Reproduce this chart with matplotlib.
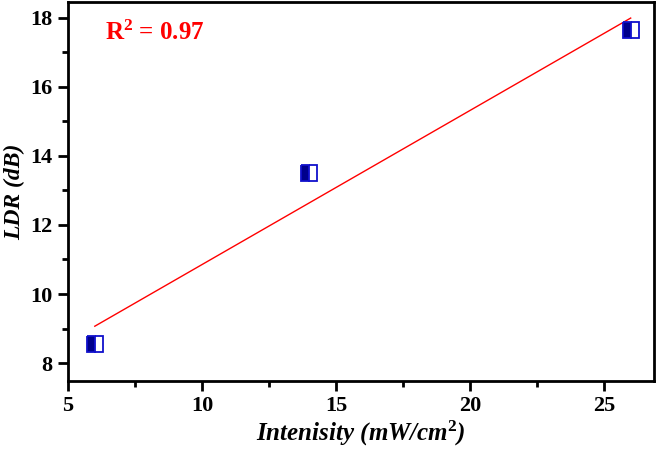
import numpy as np
import matplotlib
matplotlib.use("Agg")
import matplotlib.pyplot as plt
from matplotlib.ticker import MultipleLocator

intensity = [6, 14, 26]
ldr = [8.55, 13.5, 17.65]
r2_label = "R$^{\\mathbf{2}}$ = 0.97"

plt.rcParams['font.family'] = ['Liberation Serif', 'DejaVu Serif']
plt.rcParams['mathtext.fontset'] = 'custom'
plt.rcParams['mathtext.rm'] = 'Liberation Serif:bold'
plt.rcParams['mathtext.it'] = 'Liberation Serif:bold:italic'
plt.rcParams['mathtext.bf'] = 'Liberation Serif:bold'

fig = plt.figure(figsize=(6.61, 4.51), dpi=100)
ax = fig.add_axes([68/661, 1-381/451, (654-68)/661, (381-2)/451])

ax.plot(intensity, ldr, linestyle='none', marker='s', markersize=11,
        fillstyle='left', color='#00008B', markerfacecoloralt='white',
        markeredgecolor='#1010CC', markeredgewidth=1.3, zorder=3)

coef = np.polyfit(intensity, ldr, 1)
xf = np.array([min(intensity), max(intensity)])
ax.plot(xf, np.polyval(coef, xf), color='red', linewidth=1.0, zorder=2)

ax.text(0.063, 0.918, r2_label, transform=ax.transAxes, color='red',
        fontsize=18, fontweight='bold', va='center', ha='left')

ax.set_xlim(5, 26.87)
ax.set_ylim(7.48, 18.46)
ax.xaxis.set_major_locator(MultipleLocator(5))
ax.xaxis.set_minor_locator(MultipleLocator(2.5))
ax.yaxis.set_major_locator(MultipleLocator(2))
ax.yaxis.set_minor_locator(MultipleLocator(1))

for s in ax.spines.values():
    s.set_linewidth(2)
ax.tick_params(which='major', direction='out', length=7, width=2, labelsize=16, pad=4)
ax.tick_params(which='minor', direction='out', length=4.5, width=2)
for lbl in ax.get_xticklabels() + ax.get_yticklabels():
    lbl.set_fontweight('bold')

ax.set_xlabel('Intenisity (mW/cm$^{2}$)', fontsize=18, fontweight='bold', style='italic', labelpad=2)
ax.set_ylabel('LDR (dB)', fontsize=17, fontweight='bold', style='italic', labelpad=4)

fig.savefig('out.png', dpi=100)
